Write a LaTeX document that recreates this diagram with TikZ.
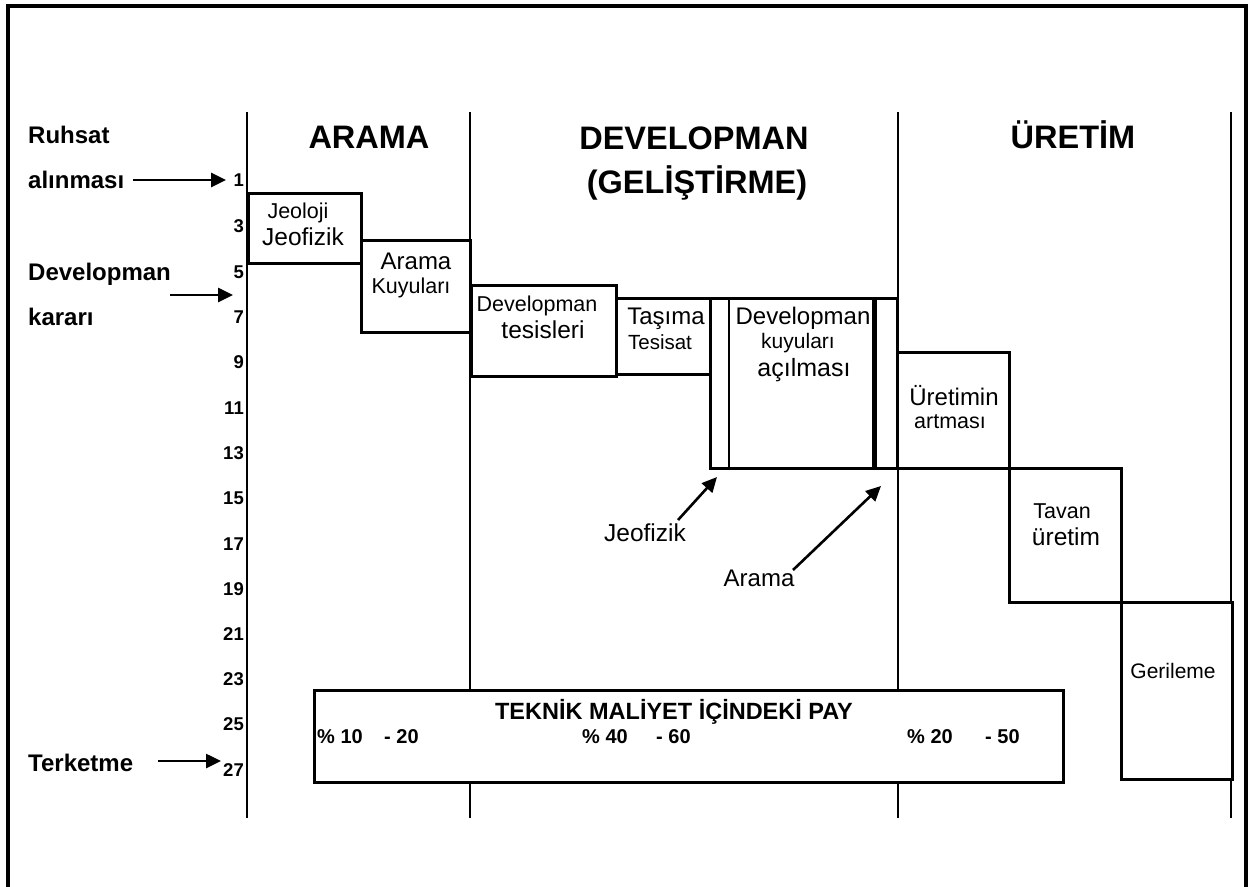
\documentclass[tikz,border=0pt]{standalone}
\usepackage{fontspec}
\setmainfont{Liberation Sans}
\usetikzlibrary{arrows.meta}
\tikzset{
  box/.style={draw, line width=2.6pt, anchor=north west, inner sep=0pt, fill=white},
  sep/.style={line width=2.3pt},
  arr/.style={line width=2.6pt, -{Triangle[length=15pt,width=14pt]}},
  lbl/.style={font=\bfseries\fontsize{24pt}{27pt}\selectfont, anchor=base west, inner sep=0pt},
  num/.style={font=\bfseries\fontsize{18.5pt}{20pt}\selectfont, anchor=base east, inner sep=0pt},
  head/.style={font=\bfseries\fontsize{32.5pt}{36pt}\selectfont, anchor=base, inner sep=0pt},
  pct/.style={font=\bfseries\fontsize{20pt}{22pt}\selectfont, anchor=base west, inner sep=0pt},
  bt/.style={anchor=base, inner sep=0pt},
}
\newcommand{\fsz}[1]{\fontsize{#1pt}{#1pt}\selectfont}
\begin{document}
\begin{tikzpicture}[x=1pt,y=-1pt]
\useasboundingbox (0,0) rectangle (1249,886);
% outer frame
\draw[line width=3.2pt] (8,890) -- (8,6) -- (1246,6) -- (1246,890);
% phase separators
\draw[sep] (247,112) -- (247,818);
\draw[sep] (470,112) -- (470,818);
\draw[sep] (898,112) -- (898,818);
\draw[sep] (1231,112) -- (1231,818);
% headings
\node[head] (harama) at (369,148) {ARAMA};
\node[head] (hdev) at (694,149) {DEVELOPMAN};
\node[head] (hgel) at (697,193) {(GELİŞTİRME)};
\node[head] (huret) at (1073,148) {ÜRETİM};
% left labels
\node[lbl] (ruhsat) at (28,143) {Ruhsat};
\node[lbl] (alinmasi) at (28,188) {alınması};
\node[lbl] (devlbl) at (28,280) {Developman};
\node[lbl] (karari) at (28,325) {kararı};
\node[lbl] (terk) at (28,771) {Terketme};
% arrow end points
\coordinate (r1) at (133,180); \coordinate (r2) at (226,180);
\coordinate (d1) at (170,295); \coordinate (d2) at (233,295);
\coordinate (t1) at (158,761); \coordinate (t2) at (221,761);
\draw[arr] (r1) -- (r2);
\draw[arr] (d1) -- (d2);
\draw[arr] (t1) -- (t2);
% scale numbers
\node[num] (n1) at (244,186) {1};
\node[num] (n3) at (244,232) {3};
\node[num] (n5) at (244,278) {5};
\node[num] (n7) at (244,323) {7};
\node[num] (n9) at (244,368) {9};
\node[num] (n11) at (244,414) {11};
\node[num] (n13) at (244,459) {13};
\node[num] (n15) at (244,504) {15};
\node[num] (n17) at (244,550) {17};
\node[num] (n19) at (244,595) {19};
\node[num] (n21) at (244,640) {21};
\node[num] (n23) at (244,685) {23};
\node[num] (n25) at (244,730) {25};
\node[num] (n27) at (244,776) {27};
% activity boxes
\node[box, minimum width=113pt, minimum height=70pt] (jj) at (247,192) {};
\node[box, minimum width=109pt, minimum height=92pt] (ak) at (360,239) {};
\node[box, minimum width=145pt, minimum height=91pt] (dt) at (470,284) {};
\node[box, minimum width=94pt, minimum height=76pt] (tt) at (615,297) {};
\node[box, minimum width=187pt, minimum height=170pt] (dk) at (709,297) {};
\draw[line width=2.3pt] (729,297) -- (729,467);
\draw[line width=5pt] (874,297) -- (874,467);
\node[box, minimum width=112pt, minimum height=116pt] (ua) at (896,351) {};
\node[box, minimum width=112pt, minimum height=134pt] (tu) at (1008,467) {};
\node[box, minimum width=111pt, minimum height=177pt] (ge) at (1120,601) {};
% box texts
\node[bt, font=\fsz{21.5}] (t_jeoloji) at (298,218) {Jeoloji};
\node[bt, font=\fsz{24.5}] (t_jeofizik) at (303,245) {Jeofizik};
\node[bt, font=\fsz{24}] (t_arama) at (416,269) {Arama};
\node[bt, font=\fsz{21.5}] (t_kuyulari) at (411,293) {Kuyuları};
\node[bt, font=\fsz{21.5}] (t_devtes) at (537,311) {Developman};
\node[bt, font=\fsz{24.5}] (t_tesisleri) at (543,338) {tesisleri};
\node[bt, font=\fsz{24}] (t_tasima) at (666,324) {Taşıma};
\node[bt, font=\fsz{20.5}] (t_tesisat) at (660,349) {Tesisat};
\node[bt, font=\fsz{24}] (t_devkuy) at (803,324) {Developman};
\node[bt, font=\fsz{21}] (t_kuy2) at (798,348) {kuyuları};
\node[bt, font=\fsz{25}] (t_acil) at (804,376) {açılması};
\node[bt, font=\fsz{24}] (t_uretimin) at (954,405) {Üretimin};
\node[bt, font=\fsz{21.5}] (t_artmasi) at (950,428) {artması};
\node[bt, font=\fsz{21.5}] (t_tavan) at (1062,518) {Tavan};
\node[bt, font=\fsz{24.5}] (t_uretim) at (1066,545) {üretim};
\node[bt, font=\fsz{21}] (t_geril) at (1173,678) {Gerileme};
% pointer labels
\node[bt, font=\fsz{24.5}] (l_jeof) at (645,541) {Jeofizik};
\node[bt, font=\fsz{24}] (l_arama) at (759,586) {Arama};
\coordinate (jf1) at (678,520); \coordinate (jf2) at (717,477);
\coordinate (ar1) at (793,570); \coordinate (ar2) at (881,486);
\draw[arr] (jf1) -- (jf2);
\draw[arr] (ar1) -- (ar2);
% cost share box
\node[box, minimum width=749pt, minimum height=92pt] (tm) at (313,689) {};
\node[bt, font=\bfseries\fsz{23.5}] (t_tek) at (674,719) {TEKNİK MALİYET İÇİNDEKİ PAY};
\node[pct] (p1) at (317,743) {\makebox[67pt][l]{\% 10}- 20};
\node[pct] (p2) at (582,743) {\makebox[74pt][l]{\% 40}- 60};
\node[pct] (p3) at (907,743) {\makebox[78pt][l]{\% 20}- 50};
\end{tikzpicture}
\end{document}
